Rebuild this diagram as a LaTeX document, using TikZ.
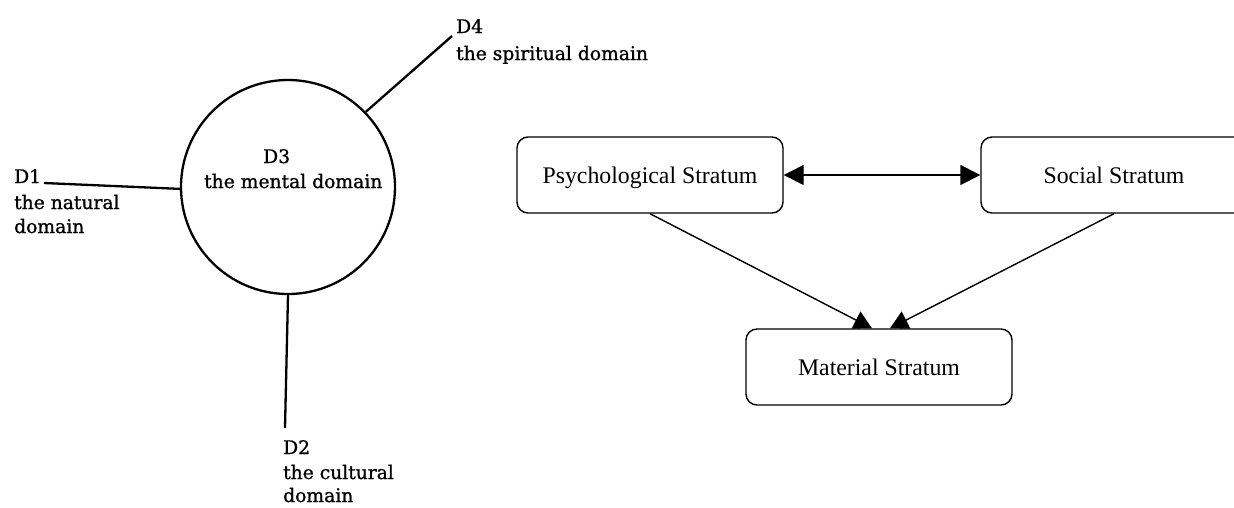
\documentclass[tikz,border=0pt]{standalone}
\usepackage{fontspec}
\setmainfont{Liberation Serif}
\newfontfamily\bookfont[FakeBold=1]{DejaVu Serif}
\usetikzlibrary{arrows.meta,calc}
\begin{document}
\begin{tikzpicture}[x=1pt,y=-1pt,
  stratum/.style={draw,line width=1.4pt,rounded corners=11pt,minimum width=266pt,minimum height=76pt,inner sep=0pt,text height=16pt,text depth=0pt,font=\fontsize{23.8}{28}\selectfont},
  link/.style={line width=1.4pt},
  tip/.style={-{Triangle[length=18pt,width=19pt]}},
  booktext/.style={inner sep=0pt,anchor=base west,font=\bookfont\fontsize{18.7}{22}\selectfont},
  scanline/.style={line width=2.3pt}]
\clip (0,0) rectangle (1234,507);
% left diagram
\node[draw,circle,line width=2.3pt,minimum size=214pt,inner sep=0pt] (c) at (288,187) {};
\node[booktext] (d3a) at (263,163) {D3};
\node[booktext] (d3b) at (204,188) {the mental domain};
\node[booktext] (d4a) at (456,33) {D4};
\node[booktext] (d4b) at (456,60) {the spiritual domain};
\node[booktext] (d1a) at (14,183) {D1};
\node[booktext] (d1b) at (14,209) {the natural};
\node[booktext] (d1c) at (14,233) {domain};
\node[booktext] (d2a) at (283,454) {D2};
\node[booktext] (d2b) at (283,479) {the cultural};
\node[booktext] (d2c) at (283,502) {domain};
\coordinate (e1) at (44,183);
\coordinate (e4) at (452,36);
\coordinate (e2) at (285,428);
\draw[scanline] (e1) -- (c.181);
\draw[scanline] (c.44) -- (e4);
\draw[scanline] (c.south) -- (e2);
% right diagram
\node[stratum] (p) at (650,175) {Psychological Stratum};
\node[stratum] (s) at (1114,175) {Social Stratum};
\node[stratum] (m) at (879,367) {Material Stratum};
\draw[link,{Triangle[length=20pt,width=20pt]}-{Triangle[length=20pt,width=20pt]}] (p) -- (s);
\draw[link,tip] (p.south) -- ([xshift=-7pt]m.north);
\draw[link,tip] (s.south) -- ([xshift=11pt]m.north);
\end{tikzpicture}
\end{document}
